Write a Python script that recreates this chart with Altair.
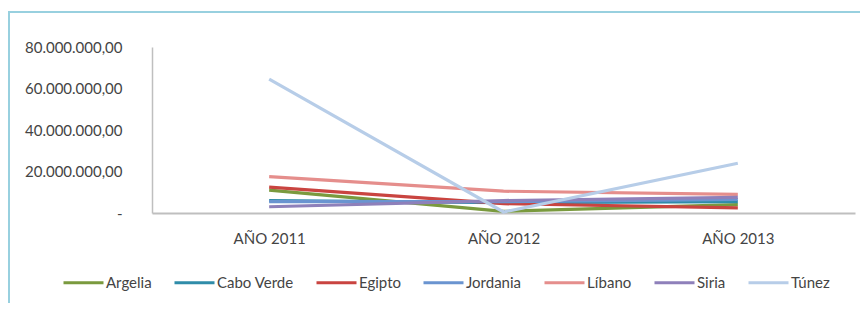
import altair as alt
import pandas as pd

years = ["AÑO 2011", "AÑO 2012", "AÑO 2013"]
countries = ["Argelia", "Cabo Verde", "Egipto", "Jordania", "Líbano", "Siria", "Túnez"]
colors = ["#7A9A3E", "#2F8CA9", "#C94440", "#6A94D0", "#E58E8C", "#8E80BA", "#B7CDE8"]

argelia = [11000000, 800000, 4000000]
cabo_verde = [6000000, 5000000, 5500000]
egipto = [12500000, 4500000, 2500000]
jordania = [5500000, 5500000, 6500000]
libano = [17500000, 10500000, 9000000]
siria = [3000000, 6000000, 7500000]
tunez = [64500000, 500000, 24000000]

y_ticks = [0, 20000000, 40000000, 60000000, 80000000]

series = [argelia, cabo_verde, egipto, jordania, libano, siria, tunez]
rows = []
for c, vals in zip(countries, series):
    for yr, v in zip(years, vals):
        rows.append({"pais": c, "anio": yr, "valor": v})
df = pd.DataFrame(rows)

FONT = "Lato"
TXT = "#444444"
AXC = "#BFBFBF"
W, H = 703, 166

lines = alt.Chart(df).mark_line(strokeWidth=3.2).encode(
    x=alt.X("anio:N", sort=years, title=None,
            scale=alt.Scale(type="point", padding=0.5),
            axis=alt.Axis(labelAngle=0, ticks=False, domainColor=AXC, domainWidth=2,
                          labelFont=FONT, labelFontSize=15, labelColor=TXT,
                          labelPadding=18, grid=False)),
    y=alt.Y("valor:Q", title=None,
            scale=alt.Scale(domain=[0, 80000000], nice=False),
            axis=alt.Axis(values=y_ticks, ticks=False, grid=False, domainColor=AXC,
                          domainWidth=1.5, labelFont=FONT, labelFontSize=15,
                          labelColor=TXT, labelPadding=30,
                          labelExpr="datum.value == 0 ? '-' : format(datum.value / 1000000, 'd') + '.000.000,00'")),
    color=alt.Color("pais:N", sort=countries,
                    scale=alt.Scale(domain=countries, range=colors),
                    legend=alt.Legend(orient="none", legendX=-90, legendY=214,
                                      direction="horizontal", columns=7, title=None,
                                      symbolType="stroke", symbolSize=1600,
                                      symbolStrokeWidth=3, labelFont=FONT,
                                      labelFontSize=15, labelColor=TXT,
                                      labelOffset=1, columnPadding=16)),
    order=alt.Order("anio:N"),
)

frame_df = pd.DataFrame({"a": [0]})
top_border = alt.Chart(frame_df).mark_rule(color="#98D0DF", strokeWidth=2).encode(
    x=alt.value(-144), x2=alt.value(W + 5), y=alt.value(-35)
)
left_border = alt.Chart(frame_df).mark_rule(color="#98D0DF", strokeWidth=2).encode(
    x=alt.value(-143), y=alt.value(-36), y2=alt.value(H + 90)
)

chart = alt.layer(top_border, left_border, lines).properties(
    width=W, height=H,
    autosize=alt.AutoSizeParams(type="none"),
    padding={"left": 144, "top": 39, "right": 5, "bottom": 90},
    background="white",
).configure_view(stroke=None)

chart.save("out.html", embed_options={"renderer": "svg", "actions": False})
